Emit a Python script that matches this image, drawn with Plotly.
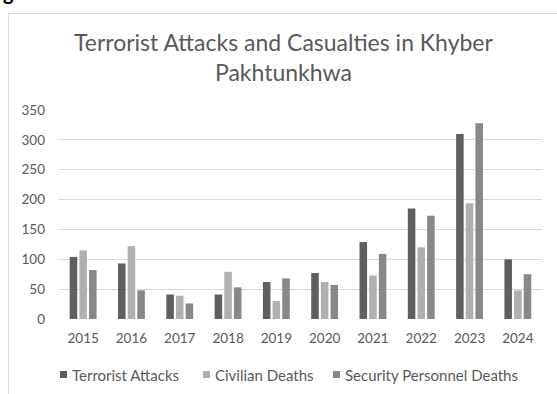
import plotly.graph_objects as go

years = ["2015", "2016", "2017", "2018", "2019", "2020", "2021", "2022", "2023", "2024"]
terrorist_attacks = [104, 93, 41, 41, 62, 77, 129, 185, 310, 100]
civilian_deaths = [115, 122, 39, 79, 30, 62, 73, 120, 194, 48]
security_deaths = [82, 48, 26, 53, 68, 57, 109, 173, 328, 75]
series_names = ["Terrorist Attacks", "Civilian Deaths", "Security Personnel Deaths"]
colors = ["#5f5f5f", "#b0b0b0", "#888888"]

W, H = 557, 394
L, R, T, B = 59, 15, 110, 75

fig = go.Figure()
for name, vals, c in zip(series_names, [terrorist_attacks, civilian_deaths, security_deaths], colors):
    fig.add_trace(go.Bar(x=years, y=vals, name=name, marker=dict(color=c, line=dict(width=0)),
                         showlegend=False))

pw = W - L - R
ph = H - T - B
def px(x):
    return (x - L) / pw
def py(y):
    return (H - B - y) / ph

font_fam = "Lato, 'Open Sans', sans-serif"
text_col = "#595959"

# custom legend (pixel layout of reference)
leg_sq_x = [60, 203, 333]
leg_y = 374.5
shapes = [dict(type="rect", xref="paper", yref="paper", x0=px(8.5), x1=px(600), y0=py(420), y1=py(13.5),
               line=dict(color="#d9d9d9", width=1), fillcolor="rgba(0,0,0,0)", layer="below")]
annotations = [
    dict(text="Terrorist Attacks and Casualties in Khyber<br>Pakhtunkhwa", xref="paper", yref="paper",
         x=px(284), y=py(57), xanchor="center", yanchor="middle", showarrow=False,
         font=dict(size=23, color=text_col, family=font_fam), align="center"),
    dict(text="<b>g</b>", xref="paper", yref="paper", x=px(8), y=py(6), xanchor="center", yanchor="bottom",
         showarrow=False, font=dict(size=20, color="black", family=font_fam)),
]
for sx, name, c in zip(leg_sq_x, series_names, colors):
    shapes.append(dict(type="rect", xref="paper", yref="paper", x0=px(sx), x1=px(sx + 7),
                       y0=py(leg_y + 3.5), y1=py(leg_y - 3.5), line=dict(width=0), fillcolor=c))
    annotations.append(dict(text=name, xref="paper", yref="paper", x=px(sx + 10), y=py(leg_y),
                            xanchor="left", yanchor="middle", showarrow=False,
                            font=dict(size=15, color=text_col, family=font_fam)))

fig.update_layout(
    width=W, height=H,
    margin=dict(l=L, r=R, t=T, b=B, autoexpand=False),
    paper_bgcolor="white", plot_bgcolor="white",
    barmode="group", bargap=0.4, bargroupgap=0.22,
    font=dict(family=font_fam, size=13.5, color=text_col),
    showlegend=False,
    xaxis=dict(showgrid=False, showline=False, ticks="", ticklabelstandoff=9, automargin=False,
               tickfont=dict(size=13.5, color=text_col)),
    yaxis=dict(range=[0, 350], dtick=50, showgrid=True, gridcolor="#d9d9d9", gridwidth=1,
               zeroline=False, showline=False, ticks="", ticklabelstandoff=13, automargin=False,
               tickfont=dict(size=13.5, color=text_col)),
    shapes=shapes,
    annotations=annotations,
)
fig.write_html("out.html")
